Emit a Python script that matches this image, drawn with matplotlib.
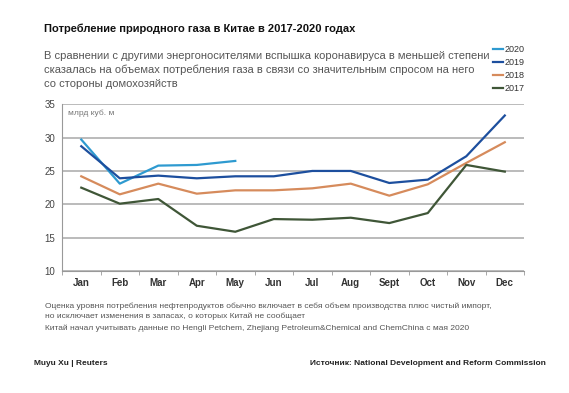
import matplotlib
matplotlib.use('Agg')
import matplotlib.pyplot as plt

plt.rcParams['font.family'] = ['Liberation Sans', 'DejaVu Sans']

months = ['Jan', 'Feb', 'Mar', 'Apr', 'May', 'Jun', 'Jul', 'Aug', 'Sept', 'Oct', 'Nov', 'Dec']
y2020 = [29.7, 23.1, 25.8, 25.9, 26.5]
y2019 = [28.7, 23.9, 24.3, 23.9, 24.2, 24.2, 25.0, 25.0, 23.2, 23.7, 27.2, 33.3]
y2018 = [24.2, 21.5, 23.1, 21.6, 22.1, 22.1, 22.4, 23.1, 21.3, 23.0, 26.2, 29.3]
y2017 = [22.5, 20.1, 20.8, 16.8, 15.9, 17.8, 17.7, 18.0, 17.2, 18.7, 25.9, 24.9]

series = [('2020', y2020, '#2e9ad0'), ('2019', y2019, '#1d4f9e'),
          ('2018', y2018, '#d68b5c'), ('2017', y2017, '#3f5637')]

fig = plt.figure(figsize=(5.69, 3.93), dpi=100)
ax = fig.add_axes([0.109, 0.310, 0.812, 0.425])

for yr, vals, c in series:
    ax.plot(range(len(vals)), vals, color=c, lw=1.6, label=yr)

ax.set_xlim(-0.5, 11.5)
ax.set_ylim(10, 35)
ax.set_yticks([10, 15, 20, 25, 30, 35])
ax.set_xticks(range(12))
ax.set_xticklabels(months, fontsize=7, color='#333333', fontweight='bold')
ax.set_xticks([i - 0.5 for i in range(13)], minor=True)
ax.tick_params(axis='x', which='major', length=0, pad=5)
ax.tick_params(axis='x', which='minor', length=3, color='#999999')
ax.tick_params(axis='y', length=0, labelsize=7, labelcolor='#444444', pad=5)
ax.grid(axis='y', color='#b5b5b5', lw=1.3)
ax.set_axisbelow(True)
for s in ['top', 'right']:
    ax.spines[s].set_visible(False)
ax.spines['left'].set_color('#999999')
ax.spines['bottom'].set_color('#999999')
ax.text(0.012, 0.965, 'млрд куб. м', transform=ax.transAxes, fontsize=6,
        color='#777777', va='top')

fig.text(0.077, 0.926, 'Потребление природного газа в Китае в 2017-2020 годах',
         fontsize=8, fontweight='bold', color='#111111', va='center')
fig.text(0.077, 0.822, 'В сравнении с другими энергоносителями вспышка коронавируса в меньшей степени\n'
         'сказалась на объемах потребления газа в связи со значительным спросом на него\n'
         'со стороны домохозяйств', fontsize=8, color='#555555', va='center', linespacing=1.5)

leg = fig.legend(loc='upper left', bbox_to_anchor=(0.866, 0.885), frameon=False,
                 fontsize=6.5, handlelength=1.1, handletextpad=0.2, labelspacing=0.45,
                 borderpad=0, borderaxespad=0)
for t in leg.get_texts():
    t.set_color('#333333')

fig.text(0.079, 0.209, 'Оценка уровня потребления нефтепродуктов обычно включает в себя объем производства плюс чистый импорт,\n'
         'но исключает изменения в запасах, о которых Китай не сообщает',
         fontsize=6, color='#555555', va='center', linespacing=1.45)
fig.text(0.079, 0.165, 'Китай начал учитывать данные по Hengli Petchem, Zhejiang Petroleum&Chemical and ChemChina с мая 2020',
         fontsize=6, color='#555555', va='center')
fig.text(0.06, 0.074, 'Muyu Xu | Reuters', fontsize=6, fontweight='bold', color='#222222', va='center')
fig.text(0.96, 0.076, 'Источник: National Development and Reform Commission', fontsize=6,
         fontweight='bold', color='#222222', va='center', ha='right')

fig.savefig('out.png', dpi=100)
